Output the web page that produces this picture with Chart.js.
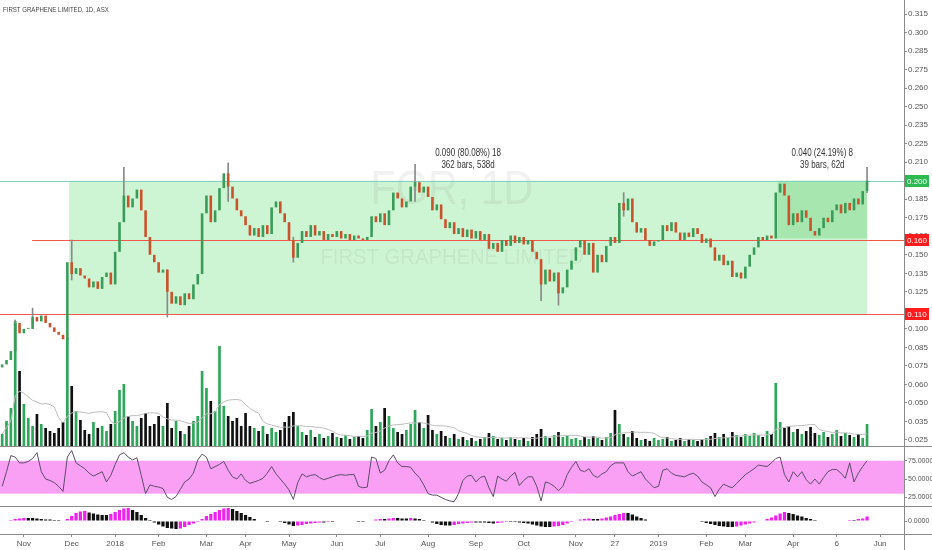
<!DOCTYPE html>
<html>
<head>
<meta charset="utf-8">
<script src="https://cdn.jsdelivr.net/npm/chart.js@4.4.0/dist/chart.umd.min.js"></script>
<style>
  html, body { margin: 0; padding: 0; background: #fff; }
  #wrap { position: relative; width: 932px; height: 550px; overflow: hidden; }
  canvas { position: absolute; left: 0; }
</style>
</head>
<body>
<div id="wrap">
  <canvas id="price" width="932" height="446" style="top:0"></canvas>
  <canvas id="rsi" width="932" height="60" style="top:446px"></canvas>
  <canvas id="macd" width="932" height="44" style="top:506px"></canvas>
</div>
<script>
// FGR daily, one bar here ~ two sessions (Oct 2017 - May 2019)
const closes = [
  0.076, 0.079, 0.085, 0.104, 0.097, 0.100, 0.100, 0.108, 0.105, 0.109,
  0.104, 0.101, 0.098, 0.096, 0.093, 0.145, 0.137, 0.141, 0.136, 0.134,
  0.128, 0.132, 0.127, 0.135, 0.138, 0.130, 0.152, 0.172, 0.190, 0.182,
  0.188, 0.194, 0.180, 0.162, 0.150, 0.145, 0.138, 0.140, 0.125, 0.117,
  0.122, 0.116, 0.124, 0.120, 0.130, 0.137, 0.178, 0.190, 0.172, 0.180,
  0.195, 0.205, 0.196, 0.188, 0.180, 0.176, 0.170, 0.163, 0.168, 0.162,
  0.170, 0.164, 0.182, 0.186, 0.178, 0.172, 0.160, 0.148, 0.158, 0.166,
  0.162, 0.170, 0.163, 0.166, 0.160, 0.164, 0.162, 0.166, 0.161, 0.164,
  0.160, 0.163, 0.161, 0.160, 0.162, 0.176, 0.172, 0.178, 0.170, 0.180,
  0.192, 0.188, 0.182, 0.186, 0.196, 0.199, 0.192, 0.196, 0.189, 0.180,
  0.184, 0.174, 0.168, 0.172, 0.164, 0.168, 0.162, 0.167, 0.161, 0.166,
  0.160, 0.164, 0.154, 0.158, 0.152, 0.160, 0.156, 0.163, 0.158, 0.162,
  0.157, 0.160, 0.152, 0.147, 0.130, 0.140, 0.132, 0.138, 0.124, 0.128,
  0.140, 0.146, 0.155, 0.160, 0.150, 0.158, 0.138, 0.150, 0.145, 0.156,
  0.162, 0.158, 0.185, 0.180, 0.188, 0.172, 0.165, 0.168, 0.160, 0.156,
  0.159, 0.160, 0.170, 0.166, 0.172, 0.165, 0.160, 0.165, 0.162, 0.168,
  0.164, 0.158, 0.161, 0.155, 0.146, 0.150, 0.143, 0.146, 0.135, 0.138,
  0.134, 0.142, 0.150, 0.155, 0.162, 0.160, 0.163, 0.161, 0.192, 0.198,
  0.190, 0.170, 0.178, 0.172, 0.180, 0.175, 0.166, 0.163, 0.168, 0.175,
  0.172, 0.180, 0.184, 0.178, 0.185, 0.180, 0.188, 0.184, 0.193, 0.200
];
const firstOpen = 0.074;
// [bar, low, high] for the longer shadows
const wicks = [
  [3, 0.086, 0.106], [7, 0.103, 0.114], [16, 0.133, 0.160], [28, 0.176, 0.209],
  [38, 0.108, 0.140], [52, 0.186, 0.212], [67, 0.145, 0.162], [95, 0.186, 0.211],
  [124, 0.119, 0.147], [128, 0.116, 0.138], [143, 0.176, 0.192], [199, 0.192, 0.209]
];
// volume, millions
const volumes = [
  1.2, 2.5, 3.8, 12.5, 7.5, 4.2, 2.8, 2.0, 3.2, 2.2,
  1.8, 1.5, 1.3, 1.8, 2.4, 10.8, 6.0, 3.5, 2.6, 1.6,
  1.2, 2.4, 1.8, 2.0, 1.5, 2.2, 3.5, 5.6, 6.2, 3.0,
  2.5, 2.0, 2.8, 3.3, 2.0, 2.2, 3.0, 2.0, 4.3, 1.8,
  2.5, 1.5, 1.2, 2.0, 2.5, 3.0, 7.5, 5.8, 4.5, 3.5,
  10.0, 4.0, 3.0, 2.5, 2.8, 2.0, 3.3, 2.0, 1.8, 1.5,
  2.0, 1.2, 1.8, 1.4, 1.6, 2.4, 3.0, 3.4, 2.0, 1.4,
  1.1, 1.6, 0.9, 1.2, 0.8, 1.0, 1.3, 0.9, 0.8, 1.1,
  0.7, 0.9, 1.0, 0.8, 1.6, 3.7, 2.0, 2.4, 3.8, 3.0,
  1.8, 1.4, 1.2, 1.6, 2.2, 3.6, 2.4, 1.8, 3.1, 1.6,
  1.2, 1.5, 1.0, 0.8, 1.2, 0.7, 0.9, 0.6, 0.8, 0.5,
  0.7, 0.9, 1.3, 1.0, 0.7, 0.8, 0.6, 0.9, 0.7, 0.6,
  0.8, 0.5, 0.9, 1.2, 1.7, 1.0, 0.8, 1.1, 1.4, 0.9,
  1.0, 0.7, 0.8, 0.6, 0.9, 0.7, 1.0, 0.8, 0.6, 0.9,
  1.3, 3.6, 2.2, 1.2, 0.9, 1.5, 0.8, 0.6, 0.7, 0.5,
  0.8, 0.6, 0.7, 0.9, 0.5, 0.6, 0.8, 0.5, 0.7, 0.6,
  0.5, 0.7, 0.8, 1.0, 1.3, 0.9, 1.2, 0.8, 1.4, 1.1,
  0.9, 1.2, 1.0, 1.3, 1.1, 0.9, 1.5, 1.2, 6.3, 2.4,
  1.8, 2.0, 1.4, 1.7, 1.2, 1.5, 1.9, 1.3, 1.1, 1.4,
  0.9, 1.2, 1.6, 1.0, 1.3, 1.1, 0.9, 1.2, 0.8, 2.2
];
const rsiValues = [
  40, 60, 82, 80, 72, 72, 74, 78, 86, 60,
  50, 48, 45, 40, 33, 80, 89, 72, 68, 64,
  58, 54, 57, 60, 46, 55, 70, 83, 86, 80,
  76, 79, 55, 30, 42, 40, 39, 37, 25, 22,
  26, 36, 46, 50, 58, 76, 84, 80, 64, 67,
  70, 74, 62, 53, 50, 57, 48, 44, 46, 48,
  51, 58, 67, 57, 50, 43, 35, 22, 45, 57,
  53, 55, 56, 52, 49, 51, 53, 55, 56, 55,
  56, 56, 40, 38, 39, 80, 78, 58, 62, 75,
  83, 72, 67, 67, 66, 58, 52, 42, 30, 28,
  28, 25, 22, 20, 19, 30, 48, 54, 55, 46,
  52, 54, 38, 26, 54, 50, 47, 54, 59, 41,
  48, 53, 53, 40, 20, 46, 44, 40, 34, 40,
  56, 66, 74, 62, 60, 64, 55, 52, 57, 60,
  68, 72, 72, 72, 60, 54, 57, 60, 50, 44,
  38, 40, 62, 64, 58, 55, 54, 53, 56, 58,
  54, 46, 42, 38, 26, 36, 43, 40, 38, 44,
  50, 56, 60, 64, 69, 68, 67, 72, 78, 80,
  56, 46, 60, 53, 60, 49, 43, 50, 43, 52,
  60, 63, 63, 58, 51, 72, 46, 58, 67, 75
];
// MACD histogram, x 1e-4
const macdHist = [
  1, 1, 2, 4, 5, 6, 6, 6, 5, 4,
  3, 3, 2, 2, 1, 4, 10, 16, 19, 20,
  17, 15, 13, 12, 12, 14, 18, 22, 25, 26,
  22, 18, 12, 6, 2, -3, -7, -11, -14, -15,
  -16, -15, -12, -8, -5, -2, 4, 10, 14, 18,
  22, 25, 26, 24, 20, 16, 12, 8, 4, 1,
  -1, -2, -1, -1, -2, -4, -7, -10, -9, -8,
  -6, -5, -4, -3, -3, -2, -2, -1, -1, -1,
  -1, -1, -2, -2, -1, 1, 3, 4, 4, 5,
  6, 6, 5, 5, 6, 5, 4, 2, 0, -3,
  -6, -8, -9, -9, -8, -6, -5, -4, -3, -3,
  -3, -3, -4, -5, -4, -3, -2, -2, -2, -3,
  -4, -5, -7, -9, -11, -12, -12, -11, -10, -8,
  -5, -2, 1, 3, 4, 5, 4, 4, 5, 7,
  9, 12, 14, 16, 16, 13, 9, 6, 3, 1,
  0, -1, 0, 1, 1, 0, -1, -1, -1, 0,
  -1, -2, -4, -6, -8, -10, -11, -12, -12, -11,
  -9, -7, -5, -3, -1, 1, 4, 7, 11, 15,
  18, 16, 14, 11, 9, 6, 4, 2, 0, -1,
  -1, 0, 1, 1, 1, 2, 2, 4, 5, 9
];

const priceTickValues = [0.3125, 0.3, 0.2875, 0.275, 0.2625, 0.25, 0.2375, 0.225, 0.2125, 0.2, 0.1875, 0.175,
  0.1625, 0.15, 0.1375, 0.125, 0.1125, 0.1, 0.0875, 0.075, 0.0625, 0.05, 0.0375, 0.025];
const priceTickLabels = ['0.315', '0.300', '0.285', '0.275', '0.260', '0.250', '0.235', '0.225', '0.210', '0.200', '0.185', '0.175',
  '0.160', '0.150', '0.135', '0.125', '0.110', '0.100', '0.085', '0.075', '0.060', '0.050', '0.035', '0.025'];
const rsiTicks = [75, 50, 25];
const rsiBand = [30, 75];
const monthTickLabels = ['Nov', 'Dec', '2018', 'Feb', 'Mar', 'Apr', 'May', 'Jun', 'Jul', 'Aug', 'Sep', 'Oct', 'Nov', '27', '2019', 'Feb', 'Mar', 'Apr', '6', 'Jun'];
const monthTickIdx = [5, 16, 26, 36, 47, 56, 66, 77, 87, 98, 109, 120, 132, 141, 151, 162, 171, 182, 192, 202];

// drawn levels and the two measure boxes
const levels = [0.200, 0.160, 0.110];
const levelStart = [-0.5, 6.9, -0.5];
const levelLine = ['#7fd1c1', '#f0584c', '#f0584c'];
const levelBox = ['#2dbb51', '#ff1c1c', '#ff1c1c'];
const measureBars = [[15.4, 199], [178.4, 199]];
const measurePrices = [[0.110, 0.200], [0.161, 0.200]];
const measureText = [['0.090 (80.08%) 18', '362 bars, 538d'], ['0.040 (24.19%) 8', '39 bars, 62d']];

const SLOTS = 208;
const slots = Array.from({ length: SLOTS }, (_, i) => i);
const opens = closes.map((c, i) => (i ? closes[i - 1] : firstOpen));
const up = closes.map((c, i) => c >= opens[i]);
const volMA = volumes.map((v, i) => {
  const s = volumes.slice(Math.max(0, i - 9), i + 1);
  return s.reduce((a, b) => a + b, 0) / s.length;
});
const wickData = closes.map(() => null);
wicks.forEach(w => { wickData[w[0]] = [w[1], w[2]]; });

const FONT = "'Liberation Sans', Arial, sans-serif";
const AXIS = '#8a8a8a';
const TEXT = '#555';
Chart.defaults.font.family = FONT;
Chart.defaults.font.size = 8;
Chart.defaults.color = TEXT;

const base = {
  responsive: false,
  animation: false,
  devicePixelRatio: 1,
  layout: { padding: 0 },
  plugins: { legend: { display: false }, tooltip: { enabled: false } },
  events: []
};

function rightAxis(min, max, tickVals, size, label) {
  return {
    position: 'right', min: min, max: max,
    afterBuildTicks: s => { s.ticks = tickVals.map(v => ({ value: v })); },
    afterFit: s => { s.width = 28; s.paddingTop = 0; s.paddingBottom = 0; },
    border: { color: AXIS },
    grid: { drawOnChartArea: false, drawTicks: true, tickLength: 3, color: AXIS },
    ticks: { padding: 1, autoSkip: false, color: TEXT, font: { size: size }, callback: label }
  };
}

function hline(ctx, y, x0, x1, color) {
  ctx.strokeStyle = color;
  ctx.lineWidth = 1;
  ctx.beginPath();
  ctx.moveTo(x0, Math.round(y) + 0.5);
  ctx.lineTo(x1, Math.round(y) + 0.5);
  ctx.stroke();
}

// narrow text: squeeze horizontally around its anchor
function narrowText(ctx, str, x, y, squeeze) {
  ctx.save();
  ctx.translate(x, y);
  ctx.scale(squeeze, 1);
  ctx.fillText(str, 0, 0);
  ctx.restore();
}

const pricePane = {
  id: 'pricePane',
  beforeDatasetsDraw(chart) {
    const { ctx, chartArea: a, scales: { x, y } } = chart;
    ctx.save();
    const fills = ['rgba(120, 228, 132, 0.36)', 'rgba(60, 190, 75, 0.26)'];
    measureBars.forEach((b, k) => {
      const x0 = x.getPixelForValue(b[0]), x1 = x.getPixelForValue(b[1]);
      const y0 = y.getPixelForValue(measurePrices[k][1]), y1 = y.getPixelForValue(measurePrices[k][0]);
      ctx.fillStyle = fills[k];
      ctx.fillRect(x0, y0, x1 - x0, y1 - y0);
    });
    // watermark
    ctx.fillStyle = 'rgba(70, 70, 70, 0.075)';
    ctx.textAlign = 'center';
    ctx.textBaseline = 'middle';
    const cx = (a.left + a.right) / 2;
    ctx.font = '48px ' + FONT;
    narrowText(ctx, 'FGR, 1D', cx, 191, 0.86);
    ctx.font = '22px ' + FONT;
    narrowText(ctx, 'FIRST GRAPHENE LIMITED', cx, 258, 0.92);
    levels.forEach((v, k) => {
      hline(ctx, y.getPixelForValue(v), x.getPixelForValue(levelStart[k]), a.right, levelLine[k]);
    });
    ctx.restore();
  },
  afterDraw(chart) {
    const { ctx, chartArea: a, scales: { x, y } } = chart;
    ctx.save();
    ctx.textAlign = 'center';
    ctx.textBaseline = 'middle';
    ctx.fillStyle = '#333';
    ctx.font = '10px ' + FONT;
    measureBars.forEach((b, k) => {
      const cx = (x.getPixelForValue(b[0]) + x.getPixelForValue(b[1])) / 2;
      const top = y.getPixelForValue(measurePrices[k][1]);
      narrowText(ctx, measureText[k][0], cx, top - 27, 0.8);
      narrowText(ctx, measureText[k][1], cx, top - 15, 0.8);
    });
    ctx.font = '8px ' + FONT;
    levels.forEach((v, k) => {
      const py = Math.round(y.getPixelForValue(v));
      ctx.fillStyle = levelBox[k];
      ctx.fillRect(a.right + 1, py - 6, 24, 12);
      ctx.fillStyle = '#fff';
      ctx.fillText(v.toFixed(3), a.right + 13, py + 0.5);
    });
    ctx.textAlign = 'left';
    ctx.fillStyle = '#444';
    ctx.font = '8px ' + FONT;
    narrowText(ctx, 'FIRST GRAPHENE LIMITED, 1D, ASX', 3, 10, 0.76);
    ctx.restore();
  }
};

new Chart(document.getElementById('price'), {
  type: 'bar',
  data: {
    labels: slots,
    datasets: [
      { type: 'bar', yAxisID: 'yVol', data: volumes, grouped: false, order: 5,
        backgroundColor: up.map(u => (u ? '#2fa65a' : '#111111')),
        barPercentage: 0.62, categoryPercentage: 1 },
      { type: 'line', yAxisID: 'yVol', data: volMA, order: 4,
        borderColor: '#bdbdbd', borderWidth: 1, pointRadius: 0, tension: 0 },
      { type: 'bar', yAxisID: 'y', data: wickData, grouped: false, order: 3,
        backgroundColor: '#8a8a8a', barThickness: 1 },
      { type: 'bar', yAxisID: 'y', data: closes.map((c, i) => [opens[i], c]), grouped: false, order: 2,
        backgroundColor: up.map(u => (u ? '#3a9c58' : '#c9532d')),
        barPercentage: 0.6, categoryPercentage: 1, minBarLength: 1 }
    ]
  },
  options: Object.assign({}, base, {
    scales: {
      x: { type: 'category', offset: true, display: false },
      y: rightAxis(0.02095, 0.32196, priceTickValues, 8, (v, i) => priceTickLabels[i]),
      yVol: { display: false, min: 0, max: 44.6 }
    }
  }),
  plugins: [pricePane]
});

const sepPane = {
  id: 'sepPane',
  beforeDatasetsDraw(chart) {
    if (chart.canvas.id !== 'rsi') return;
    const { ctx, chartArea: a, scales: { y } } = chart;
    const y0 = y.getPixelForValue(rsiBand[1]), y1 = y.getPixelForValue(rsiBand[0]);
    ctx.save();
    ctx.fillStyle = '#f9a0f5';
    ctx.fillRect(a.left, y0, a.right - a.left, y1 - y0);
    ctx.restore();
  },
  afterDraw(chart) {
    const { ctx, chartArea: a } = chart;
    ctx.save();
    hline(ctx, 0, 0, chart.width, AXIS);
    if (chart.canvas.id === 'macd') {
      hline(ctx, a.bottom, 0, chart.width, AXIS);
      ctx.strokeStyle = AXIS;
      ctx.beginPath();
      ctx.moveTo(a.right + 0.5, a.bottom);
      ctx.lineTo(a.right + 0.5, chart.height);
      ctx.stroke();
    }
    ctx.restore();
  }
};

new Chart(document.getElementById('rsi'), {
  type: 'line',
  data: {
    labels: slots,
    datasets: [{ data: rsiValues, borderColor: '#5c4d68', borderWidth: 1, pointRadius: 0, tension: 0 }]
  },
  options: Object.assign({}, base, {
    scales: {
      x: { type: 'category', offset: true, display: false },
      y: rightAxis(13.1, 95.1, rsiTicks, 7, v => v.toFixed(4))
    }
  }),
  plugins: [sepPane]
});

new Chart(document.getElementById('macd'), {
  type: 'bar',
  data: {
    labels: slots,
    datasets: [{
      data: macdHist,
      backgroundColor: macdHist.map((v, i) => (i && v > macdHist[i - 1] ? '#ee22ee' : '#111111')),
      barPercentage: 0.75, categoryPercentage: 1
    }]
  },
  options: Object.assign({}, base, {
    scales: {
      x: {
        type: 'category', offset: true,
        afterBuildTicks: s => { s.ticks = monthTickIdx.map(v => ({ value: v })); },
        afterFit: s => { s.height = 16; s.paddingLeft = 0; s.paddingRight = 0; },
        border: { color: AXIS },
        grid: { drawOnChartArea: false, drawTicks: true, tickLength: 3, color: AXIS, offset: false },
        ticks: { autoSkip: false, maxRotation: 0, padding: 2, color: TEXT, font: { size: 8 },
          callback: (v, i) => monthTickLabels[i] }
      },
      y: rightAxis(-26, 30, [0], 7, v => (v / 10000).toFixed(4))
    }
  }),
  plugins: [sepPane]
});
</script>
</body>
</html>
